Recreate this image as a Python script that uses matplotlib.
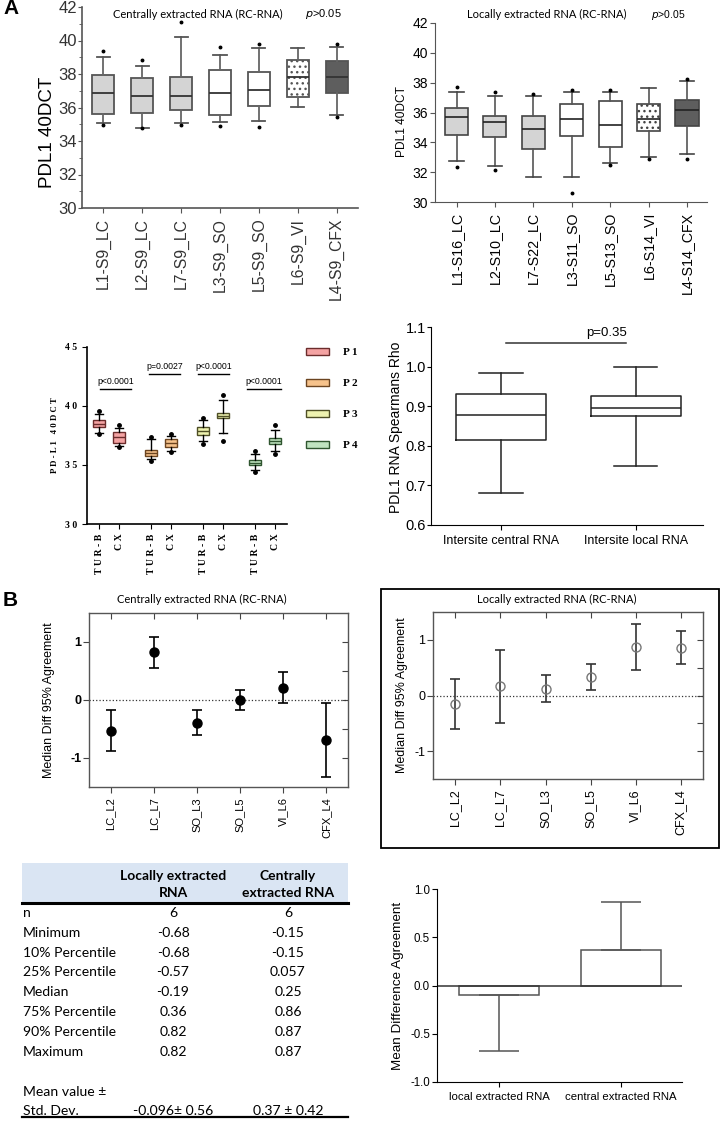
import matplotlib.pyplot as plt
from matplotlib.patches import Rectangle, Patch
from matplotlib.ticker import MultipleLocator, FuncFormatter

plt.rcParams['font.family'] = ['Liberation Sans', 'DejaVu Sans']

W, H = 721, 1121

# A: centrally extracted RNA
central_sites = ["L1-S9_LC", "L2-S9_LC", "L7-S9_LC", "L3-S9_SO", "L5-S9_SO", "L6-S9_VI", "L4-S9_CFX"]
central_q1 = [35.6, 35.7, 35.85, 35.55, 36.1, 36.65, 36.85]
central_med = [36.87, 36.7, 36.7, 36.87, 37.05, 37.8, 37.82]
central_q3 = [37.97, 37.75, 37.8, 38.22, 38.12, 38.82, 38.75]
central_lo = [35.1, 34.8, 35.08, 35.12, 35.2, 36.02, 35.55]
central_hi = [39.03, 38.46, 40.2, 39.12, 39.55, 39.55, 39.6]
central_fliers = [[34.97, 39.35], [34.8, 38.83], [34.97, 41.12], [34.88, 39.6], [34.82, 39.78], [], [35.45, 39.78]]

# A: locally extracted RNA
local_sites = ["L1-S16_LC", "L2-S10_LC", "L7-S22_LC", "L3-S11_SO", "L5-S13_SO", "L6-S14_VI", "L4-S14_CFX"]
local_q1 = [34.51, 34.33, 33.55, 34.45, 33.66, 34.74, 35.07]
local_med = [35.7, 35.34, 34.89, 35.59, 35.18, 35.56, 36.15]
local_q3 = [36.3, 35.79, 35.79, 36.57, 36.75, 36.57, 36.82]
local_lo = [32.75, 32.39, 31.65, 31.65, 32.61, 33.02, 33.22]
local_hi = [37.35, 37.08, 37.08, 37.4, 37.4, 37.66, 38.08]
local_fliers = [[32.33, 37.69], [32.12, 37.35], [37.26], [30.6, 37.5], [32.46, 37.5], [32.88], [32.88, 38.25]]

box_fill = ["#d4d4d4", "#d4d4d4", "#d4d4d4", "white", "white", "white", "#5e5e5e"]
box_hatch = ["", "", "", "", "", "...", ""]

# A: patients, TUR-B vs CX
pat_labels = ["P 1", "P 2", "P 3", "P 4"]
pat_groups = ["T U R - B", "C X"] * 4
pat_q1 = [38.25, 36.9, 35.8, 36.5, 37.5, 38.95, 35.0, 36.8]
pat_med = [38.5, 37.35, 36.05, 36.85, 37.85, 39.18, 35.2, 37.05]
pat_q3 = [38.78, 37.78, 36.3, 37.2, 38.2, 39.43, 35.4, 37.3]
pat_lo = [37.75, 36.6, 35.5, 36.2, 37.0, 37.7, 34.6, 36.2]
pat_hi = [39.3, 38.1, 37.2, 37.45, 38.8, 40.5, 35.9, 38.0]
pat_fliers = [[37.6, 39.55], [36.5, 38.35], [35.3, 37.4], [36.1, 37.6],
              [36.8, 38.95], [37.0, 40.92], [34.4, 36.2], [35.9, 38.35]]
pat_p = ["p<0.0001", "p=0.0027", "p<0.0001", "p<0.0001"]
pat_fill = ["#f4a3a3", "#f6c28b", "#eef2b0", "#c0e3c0"]
pat_edge = ["#6b2c2c", "#6b4420", "#4f4f26", "#2f552f"]

# A: Spearman rho
rho_groups = ["Intersite central RNA", "Intersite local RNA"]
rho_q1 = [0.814, 0.875]
rho_med = [0.878, 0.895]
rho_q3 = [0.930, 0.927]
rho_lo = [0.680, 0.750]
rho_hi = [0.984, 1.000]

# B: median differences
diff_sites = ["LC_L2", "LC_L7", "SO_L3", "SO_L5", "VI_L6", "CFX_L4"]
cen_diff = [-0.54, 0.82, -0.40, 0.0, 0.20, -0.69]
cen_lo = [-0.88, 0.55, -0.61, -0.17, -0.06, -1.32]
cen_hi = [-0.17, 1.09, -0.17, 0.17, 0.48, -0.06]
loc_diff = [-0.16, 0.17, 0.12, 0.33, 0.87, 0.86]
loc_lo = [-0.60, -0.49, -0.12, 0.10, 0.46, 0.57]
loc_hi = [0.29, 0.82, 0.37, 0.56, 1.28, 1.16]

# B: table and mean difference
tab_rows = ["n", "Minimum", "10% Percentile", "25% Percentile", "Median",
            "75% Percentile", "90% Percentile", "Maximum"]
tab_local = ["6", "-0.68", "-0.68", "-0.57", "-0.19", "0.36", "0.82", "0.82"]
tab_central = ["6", "-0.15", "-0.15", "0.057", "0.25", "0.86", "0.87", "0.87"]
mean_groups = ["local extracted RNA", "central extracted RNA"]
mean_vals = [-0.096, 0.37]
mean_err_low = [0.58, 0.0]
mean_err_high = [0.0, 0.50]


def px_axes(fig, x0, y0, x1, y1):
    return fig.add_axes([x0 / W, 1 - y1 / H, (x1 - x0) / W, (y1 - y0) / H])


def make_stats(q1, med, q3, lo, hi, fliers=None):
    out = []
    for i in range(len(q1)):
        out.append(dict(q1=q1[i], med=med[i], q3=q3[i], whislo=lo[i], whishi=hi[i],
                        fliers=fliers[i] if fliers else []))
    return out


fig = plt.figure(figsize=(W / 100, H / 100), dpi=100)

ov = fig.add_axes([0, 0, 1, 1])
ov.set_xlim(0, W)
ov.set_ylim(H, 0)
ov.axis('off')

ov.text(3, 9, "A", fontsize=15, fontweight='bold', va='center')
ov.text(3, 600, "B", fontsize=15, fontweight='bold', va='center')

flier_style = dict(marker='o', markersize=1.8, markerfacecolor='k', markeredgecolor='k', linestyle='none')
calib = ['Lato', 'DejaVu Sans']

# A1
ax = px_axes(fig, 82, 7, 358, 208)
pos = list(range(1, 8))
bp = ax.bxp(make_stats(central_q1, central_med, central_q3, central_lo, central_hi, central_fliers),
            positions=pos, widths=0.56, capwidths=0.34, patch_artist=True,
            boxprops=dict(edgecolor='#555555', linewidth=1.3),
            whiskerprops=dict(color='#666666', linewidth=1.3),
            capprops=dict(color='#555555', linewidth=1.3),
            medianprops=dict(color='#333333', linewidth=1.3),
            flierprops=flier_style)
for b, c, h in zip(bp['boxes'], box_fill, box_hatch):
    b.set_facecolor(c)
    b.set_hatch(h)
ax.set_xlim(0.45, 7.55)
ax.set_ylim(30, 42)
ax.set_xticks(pos)
ax.set_xticklabels(central_sites, rotation=90, fontsize=11.3)
ax.yaxis.set_major_locator(MultipleLocator(2))
ax.yaxis.set_minor_locator(MultipleLocator(1))
ax.tick_params(axis='y', labelsize=12, colors='#333333', length=3, pad=0.5)
ax.tick_params(axis='y', which='minor', length=2)
ax.tick_params(axis='x', colors='#333333')
ax.tick_params(which='both', color='#555555')
ax.set_ylabel("PDL1 40DCT", fontsize=13.5)
ax.yaxis.set_label_coords(-0.094, 0.378)
for s in ['top', 'right']:
    ax.spines[s].set_visible(False)
for s in ['left', 'bottom']:
    ax.spines[s].set_color('#555555')
    ax.spines[s].set_linewidth(1.2)
ax.text(0.418, 0.965, "Centrally extracted RNA (RC-RNA)", transform=ax.transAxes,
        ha='center', va='center', fontsize=8, family=calib)
ax.text(0.875, 0.965, "$\\it{p}$>0.05", transform=ax.transAxes, ha='center', va='center', fontsize=8)

# A2
ax = px_axes(fig, 435, 23, 707, 202)
bp = ax.bxp(make_stats(local_q1, local_med, local_q3, local_lo, local_hi, local_fliers),
            positions=pos, widths=0.6, capwidths=0.38, patch_artist=True,
            boxprops=dict(edgecolor='#444444', linewidth=1.2),
            whiskerprops=dict(color='#555555', linewidth=1.2),
            capprops=dict(color='#444444', linewidth=1.2),
            medianprops=dict(color='#222222', linewidth=1.2),
            flierprops=flier_style)
for b, c, h in zip(bp['boxes'], box_fill, box_hatch):
    b.set_facecolor(c)
    b.set_hatch(h)
ax.set_xlim(0.44, 7.52)
ax.set_ylim(30, 42)
ax.set_xticks(pos)
ax.set_xticklabels(local_sites, rotation=90, fontsize=10.3)
ax.yaxis.set_major_locator(MultipleLocator(2))
ax.tick_params(axis='y', labelsize=10, pad=1.5)
ax.tick_params(color='#555555')
ax.set_ylabel("PDL1 40DCT", fontsize=8.6)
ax.yaxis.set_label_coords(-0.099, 0.452)
for s in ['top', 'right']:
    ax.spines[s].set_visible(False)
for s in ['left', 'bottom']:
    ax.spines[s].set_color('#555555')
ax.text(0.412, 1.045, "Locally extracted RNA (RC-RNA)", transform=ax.transAxes,
        ha='center', va='center', fontsize=8, family=calib)
ax.text(0.857, 1.045, "$\\it{p}$>0.05", transform=ax.transAxes, ha='center', va='center', fontsize=7.5)

# A3
serif_b = dict(family=['Liberation Serif', 'DejaVu Serif'], fontweight='bold')
ax = px_axes(fig, 87, 347, 287, 524)
ppos = [0, 1, 2.6, 3.6, 5.2, 6.2, 7.8, 8.8]
bp = ax.bxp(make_stats(pat_q1, pat_med, pat_q3, pat_lo, pat_hi, pat_fliers),
            positions=ppos, widths=0.6, capwidths=0.4, patch_artist=True,
            boxprops=dict(linewidth=1.0),
            whiskerprops=dict(color='black', linewidth=1.0),
            capprops=dict(color='black', linewidth=1.0),
            medianprops=dict(linewidth=1.0),
            flierprops=dict(marker='o', markersize=2.5, markerfacecolor='k', markeredgecolor='k'))
for i, b in enumerate(bp['boxes']):
    b.set_facecolor(pat_fill[i // 2])
    b.set_edgecolor(pat_edge[i // 2])
    bp['medians'][i].set_color(pat_edge[i // 2])
ax.set_xlim(-0.6, 9.4)
ax.set_ylim(30, 45)
ax.set_yticks([30, 35, 40, 45])
ax.yaxis.set_major_formatter(FuncFormatter(lambda v, p: " ".join(f"{v:.0f}")))
ax.set_xticks(ppos)
ax.set_xticklabels(pat_groups, rotation=90, fontsize=7, **serif_b)
for lab in ax.get_yticklabels():
    lab.set_fontsize(7)
    lab.set_fontfamily(['Liberation Serif', 'DejaVu Serif'])
    lab.set_fontweight('bold')
ax.set_ylabel("P D - L 1   4 0 D C T", fontsize=6.3, **serif_b)
for s in ['top', 'right']:
    ax.spines[s].set_visible(False)
for s in ['left', 'bottom']:
    ax.spines[s].set_linewidth(1.2)
line_x = [(0.05, 1.6), (2.5, 4.05), (4.95, 6.5), (7.4, 9.1)]
line_y = [41.4, 42.7, 42.7, 41.4]
for (xa, xb), yy, txt in zip(line_x, line_y, pat_p):
    ax.plot([xa, xb], [yy, yy], color='black', lw=1.0, clip_on=False)
    ax.text((xa + xb) / 2, yy + 0.3, txt, ha='center', va='bottom', fontsize=6.3)
handles = [Patch(facecolor=f, edgecolor=e, linewidth=1.0) for f, e in zip(pat_fill, pat_edge)]
fig.legend(handles, pat_labels, loc='upper left', bbox_to_anchor=(306 / W, 1 - 348 / H),
           frameon=False, handlelength=2.1, handleheight=0.55, labelspacing=1.95,
           handletextpad=1.2, borderaxespad=0, borderpad=0,
           prop=dict(family=['Liberation Serif', 'DejaVu Serif'], weight='bold', size=8))

# A4
ax = px_axes(fig, 431, 327, 703, 525)
ax.bxp(make_stats(rho_q1, rho_med, rho_q3, rho_lo, rho_hi),
       positions=[1, 2], widths=0.67, capwidths=0.32, showfliers=False,
       boxprops=dict(color='#222222', linewidth=1.1),
       whiskerprops=dict(color='#222222', linewidth=1.1),
       capprops=dict(color='#222222', linewidth=1.1),
       medianprops=dict(color='#222222', linewidth=1.1))
ax.set_xlim(0.48, 2.5)
ax.set_ylim(0.6, 1.1)
ax.yaxis.set_major_locator(MultipleLocator(0.1))
ax.yaxis.set_major_formatter(FuncFormatter(lambda v, p: f"{v:.1f}"))
ax.set_xticks([1, 2])
ax.set_xticklabels(rho_groups, fontsize=9)
ax.tick_params(axis='y', labelsize=10.5, length=3, pad=0.5)
ax.set_ylabel("PDL1 RNA Spearmans Rho", fontsize=10)
ax.yaxis.set_label_coords(-0.103, 0.492)
for s in ['top', 'right']:
    ax.spines[s].set_visible(False)
ax.plot([1.04, 1.93], [1.06, 1.06], color='#333333', lw=1.1)
ax.text(1.78, 1.085, "p=0.35", ha='center', va='center', fontsize=9.5)


def diff_panel(ax, vals, lo, hi, filled, bold_ticks, xfs, lab_x):
    x = list(range(1, 7))
    yerr = [[v - l for v, l in zip(vals, lo)], [h - v for v, h in zip(vals, hi)]]
    if filled:
        ax.errorbar(x, vals, yerr=yerr, fmt='o', color='black', ms=6.5, capsize=3.5,
                    elinewidth=1.2, capthick=1.2)
    else:
        ax.errorbar(x, vals, yerr=yerr, fmt='o', mfc='none', mec='#777777', ms=6.5,
                    ecolor='#333333', capsize=3.5, elinewidth=1.2, capthick=1.2)
    ax.axhline(0, color='#333333', ls=':', lw=0.9)
    ax.set_xlim(0.5, 6.5)
    ax.set_ylim(-1.5, 1.5)
    ax.set_xticks(x)
    ax.set_xticklabels(diff_sites, rotation=90, fontsize=xfs)
    ax.set_yticks([-1, 0, 1])
    ax.set_yticklabels(["-1", "0", "1"], fontsize=9, fontweight='bold' if bold_ticks else 'normal')
    ax.set_ylabel("Median Diff 95% Agreement", fontsize=9)
    ax.yaxis.set_label_coords(lab_x, 0.5)
    ax.tick_params(direction='out', length=4, color='#444444')
    ax.tick_params(axis='y', pad=1.5)
    for s in ax.spines.values():
        s.set_color('#555555')
        s.set_linewidth(1.0)
    top = ax.secondary_xaxis('top')
    top.set_xticks(x)
    top.tick_params(direction='in', length=4, labeltop=False, color='#444444')
    top.spines['top'].set_visible(False)
    right = ax.secondary_yaxis('right')
    right.set_yticks([-1, -0.5, 0, 0.5, 1])
    right.tick_params(direction='in', length=4, labelright=False, color='#444444')
    right.spines['right'].set_visible(False)


# B1
ax = px_axes(fig, 89, 613, 348, 787)
diff_panel(ax, cen_diff, cen_lo, cen_hi, True, True, 8, -0.131)
ov.text(202, 599, "Centrally extracted RNA (RC-RNA)", ha='center', va='center', fontsize=8, family=calib)

# B2
ax = px_axes(fig, 433, 612, 703, 779)
diff_panel(ax, loc_diff, loc_lo, loc_hi, False, False, 9, -0.093)
ov.text(557, 599, "Locally extracted RNA (RC-RNA)", ha='center', va='center', fontsize=8, family=calib)
ov.add_patch(Rectangle((381, 589), 338, 259, fill=False, edgecolor='black', lw=1.3))

# table
tfont = ['Lato', 'DejaVu Sans']
ov.add_patch(Rectangle((22, 863), 326, 40, facecolor='#dae5f3', edgecolor='none'))
ov.plot([22, 348], [903, 903], color='black', lw=2.2)
ov.plot([22, 348], [1117, 1117], color='black', lw=1.6)
ov.text(173, 876, "Locally extracted", ha='center', va='center', fontsize=10, fontweight='bold', family=tfont)
ov.text(173, 893, "RNA", ha='center', va='center', fontsize=10, fontweight='bold', family=tfont)
ov.text(288, 876, "Centrally", ha='center', va='center', fontsize=10, fontweight='bold', family=tfont)
ov.text(288, 893, "extracted RNA", ha='center', va='center', fontsize=10, fontweight='bold', family=tfont)
for i, (r, a, b) in enumerate(zip(tab_rows, tab_local, tab_central)):
    y = 913 + i * 19.8
    ov.text(23, y, r, ha='left', va='center', fontsize=10.1, family=tfont)
    ov.text(173, y, a, ha='center', va='center', fontsize=10.1, family=tfont)
    ov.text(288, y, b, ha='center', va='center', fontsize=10.1, family=tfont)
ov.text(23, 1092, "Mean value \u00b1", ha='left', va='center', fontsize=10.1, family=tfont)
ov.text(23, 1111, "Std. Dev.", ha='left', va='center', fontsize=10.1, family=tfont)
ov.text(173, 1111, "-0.096\u00b1 0.56", ha='center', va='center', fontsize=10.1, family=tfont)
ov.text(288, 1111, "0.37 \u00b1 0.42", ha='center', va='center', fontsize=10.1, family=tfont)

# B4
ax = px_axes(fig, 437, 889, 682, 1082)
ax.bar([1, 2], mean_vals, width=0.66, color='white', edgecolor='#555555', linewidth=1.1)
ax.errorbar([1, 2], mean_vals, yerr=[mean_err_low, mean_err_high], fmt='none',
            ecolor='#555555', elinewidth=1.1, capsize=14.5, capthick=1.1)
ax.axhline(0, color='#333333', lw=1.1)
ax.set_xlim(0.49, 2.5)
ax.set_ylim(-1.0, 1.0)
ax.yaxis.set_major_locator(MultipleLocator(0.5))
ax.yaxis.set_major_formatter(FuncFormatter(lambda v, p: f"{v:.1f}"))
ax.set_xticks([1, 2])
ax.set_xticklabels(mean_groups, fontsize=8.2)
ax.tick_params(axis='y', labelsize=8.3, pad=1.5)
ax.set_ylabel("Mean Difference Agreement", fontsize=9.7)
ax.yaxis.set_label_coords(-0.135, 0.5)
for s in ['top', 'right']:
    ax.spines[s].set_visible(False)

fig.savefig("out.png", dpi=100)
